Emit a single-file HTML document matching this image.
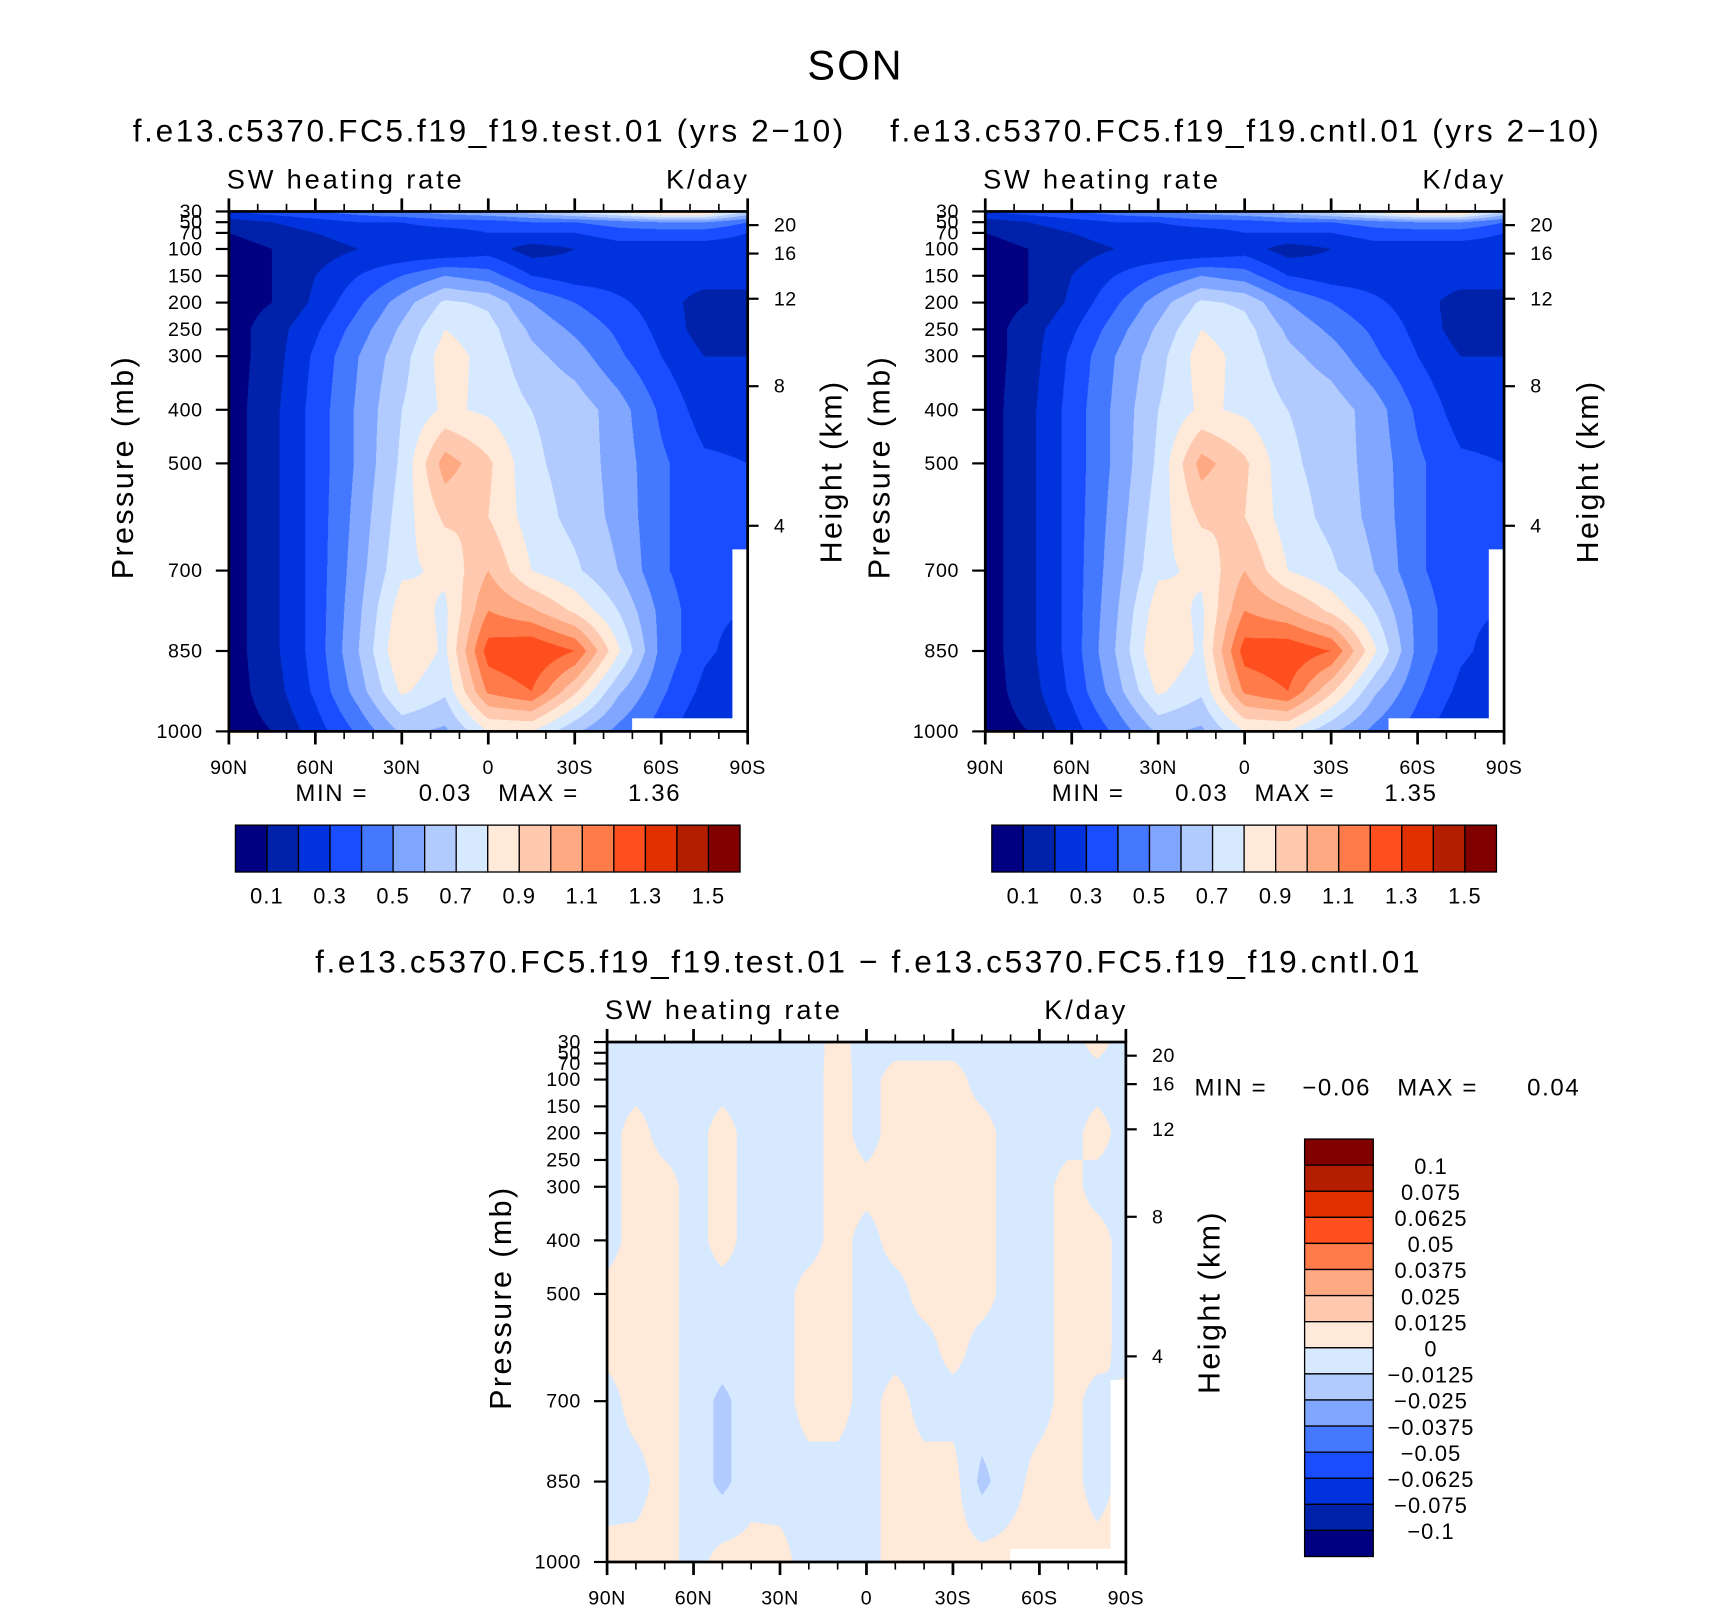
<!DOCTYPE html>
<html><head><meta charset="utf-8">
<style>
html,body{margin:0;padding:0;background:#fff;width:1710px;height:1611px;overflow:hidden}
#wrap{position:absolute;left:0;top:0;width:1569px;height:1478px;transform:scale(1.0899,1.09);transform-origin:0 0}
canvas{position:absolute}
svg{position:absolute;left:0;top:0}
text{font-family:"Liberation Sans",sans-serif;fill:#000}
</style></head>
<body>
<div id="wrap">
<canvas id="c1"></canvas>
<canvas id="c2"></canvas>
<canvas id="c3"></canvas>
<svg id="s" width="1569" height="1478" viewBox="0 0 1569 1478">
<text x="785" y="73" font-size="38" letter-spacing="2" text-anchor="middle">SON</text>
</svg>
</div>
<script>
// ---- data ----
const levels = [30,50,70,100,150,200,250,300,400,500,600,700,775,850,925,1000];
const latsMain = ['90N','75N','60N','45N','30N','15N','0','15S','30S','45S','60S','75S','90S'];
const testField = [
[0.3,0.35,0.4,0.45,0.5,0.55,0.6,0.65,0.75,0.85,0.95,0.95,0.7],
[0.15,0.2,0.25,0.3,0.3,0.35,0.35,0.4,0.4,0.45,0.5,0.5,0.4],
[0.1,0.15,0.2,0.25,0.25,0.25,0.3,0.3,0.3,0.35,0.35,0.35,0.3],
[0.05,0.1,0.15,0.2,0.2,0.2,0.25,0.15,0.2,0.25,0.25,0.25,0.25],
[0.05,0.1,0.2,0.3,0.4,0.5,0.45,0.3,0.25,0.25,0.25,0.25,0.25],
[0.05,0.1,0.22,0.38,0.55,0.72,0.68,0.5,0.4,0.32,0.25,0.15,0.15],
[0.05,0.15,0.28,0.45,0.62,0.8,0.74,0.58,0.48,0.38,0.27,0.15,0.15],
[0.05,0.15,0.32,0.5,0.66,0.85,0.76,0.63,0.55,0.42,0.3,0.2,0.2],
[0.05,0.17,0.34,0.52,0.7,0.82,0.78,0.7,0.66,0.55,0.38,0.25,0.25],
[0.05,0.17,0.34,0.52,0.72,1.05,0.92,0.72,0.66,0.56,0.42,0.32,0.3],
[0.05,0.17,0.34,0.54,0.75,0.92,0.9,0.75,0.67,0.57,0.42,0.32,0.35],
[0.05,0.17,0.34,0.56,0.78,0.82,1.0,0.8,0.72,0.6,0.42,0.32,0.3],
[0.05,0.17,0.34,0.58,0.86,0.78,1.1,1.02,0.88,0.7,0.47,0.32,0.3],
[0.05,0.17,0.34,0.6,0.9,0.78,1.25,1.3,1.2,0.82,0.47,0.32,0.25],
[0.05,0.15,0.32,0.55,0.82,0.72,1.12,1.2,0.92,0.62,0.42,0.27,0.2],
[0.05,0.1,0.25,0.42,0.62,0.58,0.8,0.8,0.62,0.47,0.35,0.2,0.2]];
const cntlField = [
[0.3,0.35,0.4,0.45,0.5,0.55,0.6,0.65,0.75,0.85,0.95,0.95,0.7],
[0.15,0.2,0.25,0.3,0.3,0.35,0.35,0.4,0.4,0.45,0.5,0.5,0.4],
[0.1,0.15,0.2,0.25,0.25,0.25,0.3,0.3,0.3,0.35,0.35,0.35,0.3],
[0.05,0.1,0.15,0.2,0.2,0.2,0.25,0.15,0.2,0.25,0.25,0.25,0.25],
[0.05,0.1,0.2,0.3,0.4,0.5,0.45,0.3,0.25,0.25,0.25,0.25,0.25],
[0.05,0.1,0.22,0.38,0.55,0.72,0.68,0.5,0.4,0.32,0.25,0.15,0.15],
[0.05,0.15,0.28,0.45,0.62,0.8,0.74,0.58,0.48,0.38,0.27,0.15,0.15],
[0.05,0.15,0.32,0.5,0.66,0.85,0.76,0.63,0.55,0.42,0.3,0.2,0.2],
[0.05,0.17,0.34,0.52,0.7,0.82,0.78,0.7,0.66,0.55,0.38,0.25,0.25],
[0.05,0.17,0.34,0.52,0.72,1.04,0.92,0.72,0.66,0.56,0.42,0.32,0.3],
[0.05,0.17,0.34,0.54,0.75,0.92,0.9,0.75,0.67,0.57,0.42,0.32,0.35],
[0.05,0.17,0.34,0.56,0.78,0.82,1.0,0.8,0.72,0.6,0.42,0.32,0.3],
[0.05,0.17,0.34,0.58,0.86,0.78,1.1,1.02,0.88,0.7,0.47,0.32,0.3],
[0.05,0.17,0.34,0.6,0.9,0.78,1.25,1.28,1.2,0.82,0.47,0.32,0.25],
[0.05,0.15,0.32,0.55,0.82,0.72,1.12,1.2,0.92,0.62,0.42,0.27,0.2],
[0.05,0.1,0.25,0.42,0.62,0.58,0.8,0.8,0.62,0.47,0.35,0.2,0.2]];
const diffLevels = [30,100,200,300,400,500,600,700,850,1000];
const latsDiff = ['90N','80N','70N','60N','50N','40N','30N','20N','10N','0','10S','20S','30S','40S','50S','60S','70S','80S','90S'];
const diffField = [
[-0.005,-0.005,-0.005,-0.005,-0.005,-0.005,-0.005,-0.005,0.004,-0.005,-0.005,-0.005,-0.005,-0.005,-0.005,-0.005,-0.005,0.004,-0.005],
[-0.005,-0.005,-0.005,-0.005,-0.005,-0.005,-0.005,-0.005,0.005,-0.005,0.005,0.005,0.005,-0.005,-0.005,-0.005,-0.005,-0.005,-0.005],
[-0.005,0.005,-0.005,-0.005,0.005,-0.005,-0.005,-0.005,0.005,-0.005,0.005,0.005,0.005,0.005,-0.005,-0.005,-0.005,0.005,-0.005],
[-0.005,0.005,0.005,-0.005,0.005,-0.005,-0.005,-0.005,0.005,0.004,0.005,0.005,0.005,0.005,-0.005,-0.005,0.005,-0.005,-0.005],
[-0.005,0.005,0.005,-0.005,0.005,-0.005,-0.005,-0.005,0.005,-0.005,0.005,0.005,0.005,0.005,-0.005,-0.005,0.005,0.005,-0.005],
[0.004,0.005,0.005,-0.005,-0.005,-0.005,-0.005,0.005,0.005,-0.005,-0.005,0.005,0.005,0.005,-0.005,-0.005,0.005,0.005,-0.005],
[0.004,0.005,0.005,-0.005,-0.005,-0.005,-0.005,0.005,0.005,-0.005,-0.005,-0.005,0.005,-0.005,-0.005,-0.005,0.005,0.005,-0.005],
[-0.005,0.005,0.005,-0.005,-0.016,-0.005,-0.005,0.005,0.005,-0.005,0.005,-0.005,-0.005,-0.005,-0.005,-0.005,0.005,-0.005,0.004],
[-0.005,-0.005,0.005,-0.005,-0.016,-0.005,-0.005,-0.005,-0.005,-0.005,0.005,0.005,0.005,-0.016,-0.005,0.005,0.005,-0.005,0.004],
[0.004,0.005,0.005,-0.005,0.005,0.005,0.004,-0.005,-0.005,-0.005,0.005,0.005,0.005,0.005,0.005,0.005,0.005,0.005,0.004]];
const mainBounds = [0.1,0.2,0.3,0.4,0.5,0.6,0.7,0.8,0.9,1.0,1.1,1.2,1.3,1.4,1.5];
const mainTickLabels = ['0.1','0.3','0.5','0.7','0.9','1.1','1.3','1.5'];
const diffBounds = [-0.1,-0.075,-0.0625,-0.05,-0.0375,-0.025,-0.0125,0,0.0125,0.025,0.0375,0.05,0.0625,0.075,0.1];
const diffTickLabels = ['-0.1','-0.075','-0.0625','-0.05','-0.0375','-0.025','-0.0125','0','0.0125','0.025','0.0375','0.05','0.0625','0.075','0.1'];
const pLabels = [30,50,70,100,150,200,250,300,400,500,700,850,1000];
const hLabels = [20,16,12,8,4];
const latLabels = ['90N','60N','30N','0','30S','60S','90S'];
const colors = ['#000080','#0022aa','#0033dd','#1a4dff','#4479ff','#80a6ff','#b1cbff','#d7e9ff','#ffe9d9','#ffc9b0','#ffa983','#ff7b4a','#ff4f1f','#e03000','#b41e00','#800000'];

// ---- helpers ----
const W=476,H=477;
const svg=document.getElementById('s');
const NS='http://www.w3.org/2000/svg';
function yP(y0,p){return y0+(p-30)/970*H;}
function el(tag,attrs,txt){const e=document.createElementNS(NS,tag);for(const k in attrs)e.setAttribute(k,attrs[k]);if(txt!==undefined)e.textContent=txt;svg.appendChild(e);return e;}
function colorFor(v,b){let i=0;while(i<b.length&&v>=b[i])i++;return colors[i];}
function hexRgb(h){return [parseInt(h.substr(1,2),16),parseInt(h.substr(3,2),16),parseInt(h.substr(5,2),16)];}
function drawField(id,x0,y0,grid,lev,b){
  const c=document.getElementById(id);c.width=W*2;c.height=H*2;
  c.style.left=x0+'px';c.style.top=y0+'px';c.style.width=W+'px';c.style.height=H+'px';
  const ctx=c.getContext('2d');const img=ctx.createImageData(c.width,c.height);
  const nc=grid[0].length;const cache={};
  for(let py=0;py<c.height;py++){
    const p=30+(py+0.5)/c.height*970;
    let k=0;while(k<lev.length-2&&p>lev[k+1])k++;
    const t=Math.min(1,Math.max(0,(p-lev[k])/(lev[k+1]-lev[k])));
    for(let px=0;px<c.width;px++){
      const fx=(px+0.5)/c.width*(nc-1);let j=Math.min(nc-2,Math.floor(fx));const s=fx-j;
      const v=(grid[k][j]*(1-s)+grid[k][j+1]*s)*(1-t)+(grid[k+1][j]*(1-s)+grid[k+1][j+1]*s)*t;
      const col=colorFor(v,b);const rgb=cache[col]||(cache[col]=hexRgb(col));
      const o=(py*c.width+px)*4;img.data[o]=rgb[0];img.data[o+1]=rgb[1];img.data[o+2]=rgb[2];img.data[o+3]=255;
    }
  }
  ctx.putImageData(img,0,0);
}
function zToP(z){return 1013.25*Math.pow(1-2.25577e-5*z*1000,5.25588);}
function axes(x0,y0,title,prefix,tx){
  let t=el('text',{x:tx,y:y0-64,'font-size':29,'letter-spacing':2.4,'text-anchor':'middle'},title);
  
  
  t=el('text',{x:x0-2,y:y0-21,'font-size':25,'letter-spacing':2.6},'SW heating rate');
  
  
  t=el('text',{x:x0+W+2,y:y0-21,'font-size':25,'letter-spacing':2.6,'text-anchor':'end'},'K/day');
  
  
  for(let d=0;d<=180;d+=10){
    const x=x0+d/180*W;const maj=d%30===0;const L=maj?12:7;
    el('line',{x1:x,y1:y0+H,x2:x,y2:y0+H+L,stroke:'#000','stroke-width':maj?2.5:1.5});
    el('line',{x1:x,y1:y0,x2:x,y2:y0-L,stroke:'#000','stroke-width':maj?2.5:1.5});
  }
  latLabels.forEach((l,i)=>{
    const tt=el('text',{x:x0+i*W/6,y:y0+H+39,'font-size':18,'letter-spacing':0.5,'text-anchor':'middle'},l);
    
    
  });
  pLabels.forEach(p=>{
    const y=yP(y0,p);
    el('line',{x1:x0-12,y1:y,x2:x0,y2:y,stroke:'#000','stroke-width':2});
    const tt=el('text',{x:x0-24,y:y+6,'font-size':18,'letter-spacing':0.6,'text-anchor':'end'},String(p));
    
    
  });
  hLabels.forEach(h=>{
    const y=yP(y0,zToP(h))+(h>=16?6:0);
    el('line',{x1:x0+W,y1:y,x2:x0+W+10,y2:y,stroke:'#000','stroke-width':2});
    const tt=el('text',{x:x0+W+24,y:y+6,'font-size':18,'letter-spacing':0.5},String(h));
    
    
  });
  t=el('text',{x:0,y:0,'font-size':28,'letter-spacing':2.2,'text-anchor':'middle',transform:`translate(${x0-88},${y0+H/2-4}) rotate(-90)`},'Pressure (mb)');
  
  
  t=el('text',{x:0,y:0,'font-size':28,'letter-spacing':2.2,'text-anchor':'middle',transform:`translate(${x0+W+86},${y0+H/2}) rotate(-90)`},'Height (km)');
  
  
  // missing-data area
  el('rect',{x:x0+370,y:y0+H-12,width:W-370,height:12,fill:'#fff'});
  el('rect',{x:x0+462,y:y0+310,width:14,height:H-310,fill:'#fff'});
  t=el('rect',{x:x0,y:y0,width:W,height:H,fill:'none',stroke:'#000','stroke-width':2.5});
  
  
}
function minmax(x0,y,mn,mx,prefix){
  const g=[['MIN =',x0,'start'],[mn,x0+162,'end'],['MAX =',x0+186,'start'],[mx,x0+354,'end']];
  g.forEach(a=>{const t=el('text',{x:a[1],y:y,'font-size':22,'letter-spacing':1.5,'text-anchor':a[2]},a[0]);
    
    });
}
function hbar(x0,y0,prefix){
  const w=463/16;
  colors.forEach((c,i)=>{const r=el('rect',{x:x0+i*w,y:y0,width:w,height:43,fill:c,stroke:'#000','stroke-width':1.2});
    
    });
  mainTickLabels.forEach((l,i)=>{const t=el('text',{x:x0+(1+2*i)*w,y:y0+72,'font-size':20,'letter-spacing':1,'text-anchor':'middle'},l);
    
    });
}

// ---- panels ----
drawField('c1',210,194,testField,levels,mainBounds);
drawField('c2',904,194,cntlField,levels,mainBounds);
drawField('c3',557,956,diffField,diffLevels,diffBounds);
axes(210,194,'f.e13.c5370.FC5.f19_f19.test.01 (yrs 2\u221210)','test',449);
axes(904,194,'f.e13.c5370.FC5.f19_f19.cntl.01 (yrs 2\u221210)','cntl',1143);
axes(557,956,'f.e13.c5370.FC5.f19_f19.test.01 \u2212 f.e13.c5370.FC5.f19_f19.cntl.01','diff',797);
minmax(271,735,'0.03','1.36','test');
minmax(965,735,'0.03','1.35','cntl');
minmax(1096,1005,'\u22120.06','0.04','diff');
hbar(216,757,'test');
hbar(910,757,'cntl');
// vertical diff colorbar
(function(){
  const x0=1197,y0=1045,h=383/16;
  for(let i=0;i<16;i++){
    const r=el('rect',{x:x0,y:y0+i*h,width:63,height:h,fill:colors[15-i],stroke:'#000','stroke-width':1.2});
    
    
  }
  for(let i=0;i<15;i++){
    const lab=diffTickLabels[14-i].replace('-','\u2212');
    const t=el('text',{x:1313,y:y0+(i+1)*h+8,'font-size':20,'letter-spacing':1,'text-anchor':'middle'},lab);
    
    
  }
})();
</script>
</body></html>
